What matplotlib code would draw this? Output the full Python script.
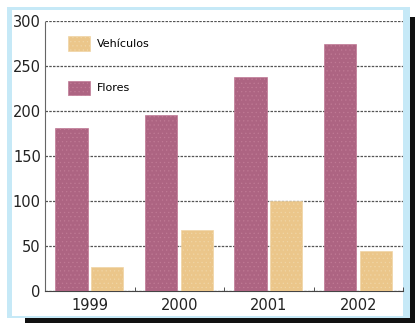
import numpy as np
import matplotlib.pyplot as plt
from matplotlib.patches import Rectangle

# datos por año
anios = ["1999", "2000", "2001", "2002"]
flores = [181, 196, 238, 274]
vehiculos = [27, 68, 100, 45]

COLOR_FLORES = "#ad6482"
COLOR_VEHIC = "#ebc68a"

plt.rcParams['font.family'] = ['DejaVu Sans']
plt.rcParams['hatch.color'] = '#8a6a8a'
plt.rcParams['hatch.linewidth'] = 0.4

fig = plt.figure(figsize=(4.15, 3.23), dpi=100, facecolor="white")

W, H = 415.0, 323.0
def caja(x0, y0, x1, y1, color, z):
	# caja en pixeles (origen arriba a la izquierda)
	fig.patches.append(Rectangle((x0 / W, 1 - y1 / H), (x1 - x0) / W, (y1 - y0) / H,
		transform=fig.transFigure, facecolor=color, edgecolor="none", zorder=z))

caja(25, 17, 415, 323, "#111111", -3)   # sombra
caja(7, 7, 410, 318, "#c6e9f7", -2)     # marco azul
caja(12, 10, 403, 316, "white", -1)

ax = fig.add_axes([45 / W, 1 - 291 / H, 358 / W, 270 / H])
ax.set_facecolor("none")

x = np.arange(len(anios))
ancho = 0.36
ax.bar(x - 0.205, flores, ancho, color=COLOR_FLORES, hatch="....", edgecolor="#c07a95",
	linewidth=0.5, label="Flores", zorder=3)
ax.bar(x + 0.195, vehiculos, ancho, color=COLOR_VEHIC, hatch="....", edgecolor="#f0d5a5",
	linewidth=0.5, label="Vehículos", zorder=3)

ax.set_xlim(-0.5, 3.5)
ax.set_ylim(0, 300)
ax.set_yticks(range(0, 301, 50))
ax.set_xticks(x)
ax.set_xticklabels(anios)
ax.set_xticks(np.arange(0.5, 4, 1), minor=True)
ax.tick_params(axis="both", length=0, labelsize=10.5, colors="#222222")
ax.tick_params(axis="x", which="minor", length=3, direction="in", color="#333333")
ax.tick_params(axis="y", pad=3)
ax.tick_params(axis="x", pad=5)

ax.grid(axis="y", color="#555555", linestyle=(0, (2, 1)), linewidth=0.9, zorder=1)
for s in ["top", "right"]:
	ax.spines[s].set_visible(False)
ax.spines["left"].set_linestyle((0, (2, 1)))
ax.spines["left"].set_color("#666666")
ax.spines["bottom"].set_linestyle((0, (2, 1)))
ax.spines["bottom"].set_color("#444444")

h, l = ax.get_legend_handles_labels()
ax.legend(h[::-1], l[::-1], loc="upper left", bbox_to_anchor=(0.035, 0.98), frameon=False,
	fontsize=8, handlelength=2.0, handleheight=1.6, labelspacing=2.7, handletextpad=0.6)

fig.savefig("out.png", dpi=100, facecolor=fig.get_facecolor())
